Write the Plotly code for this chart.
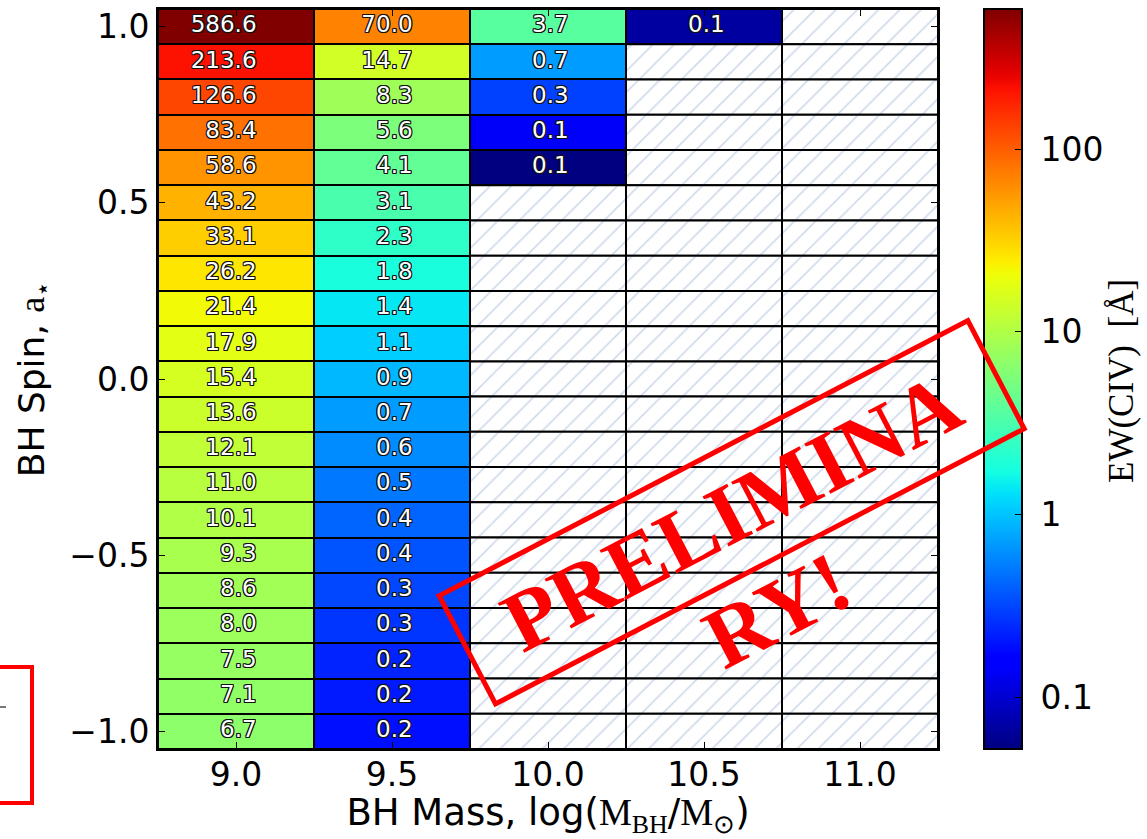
import math
import numpy as np
import plotly.graph_objects as go

# ---- data -----------------------------------------------------------------
mass = [9.0, 9.5, 10.0, 10.5, 11.0]                       # log(M_BH/M_sun)
spin = [1.0, 0.9, 0.8, 0.7, 0.6, 0.5, 0.4, 0.3, 0.2, 0.1, 0.0,
        -0.1, -0.2, -0.3, -0.4, -0.5, -0.6, -0.7, -0.8, -0.9, -1.0]

# EW(CIV) [Angstrom] per mass column, ordered like `spin` (None = no prediction)
ew_m90 = [586.6, 213.6, 126.6, 83.4, 58.6, 43.2, 33.1, 26.2, 21.4, 17.9, 15.4,
          13.6, 12.1, 11.0, 10.1, 9.3, 8.6, 8.0, 7.5, 7.1, 6.7]
ew_m95 = [70.0, 14.7, 8.3, 5.6, 4.1, 3.1, 2.3, 1.8, 1.4, 1.1, 0.9,
          0.7, 0.6, 0.5, 0.42, 0.36, 0.32, 0.27, 0.23, 0.21, 0.19]
ew_m100 = [3.7, 0.7, 0.3, 0.14, 0.052, None, None, None, None, None, None,
           None, None, None, None, None, None, None, None, None, None]
ew_m105 = [0.068, None, None, None, None, None, None, None, None, None, None,
           None, None, None, None, None, None, None, None, None, None]
ew_m110 = [None, None, None, None, None, None, None, None, None, None, None,
           None, None, None, None, None, None, None, None, None, None]

columns = [ew_m90, ew_m95, ew_m100, ew_m105, ew_m110]
cbar_ticks = [0.1, 1, 10, 100]
cbar_ticktext = ["0.1", "1", "10", "100"]

# ---- matplotlib-style "jet" colour map --------------------------------------
def jet(t):
    r = np.interp(t, [0, 0.35, 0.66, 0.89, 1], [0, 0, 1, 1, 0.5])
    g = np.interp(t, [0, 0.125, 0.375, 0.64, 0.91, 1], [0, 0, 1, 1, 0, 0])
    b = np.interp(t, [0, 0.11, 0.34, 0.65, 1], [0.5, 1, 1, 0, 0])
    return f"rgb({int(round(r*255))},{int(round(g*255))},{int(round(b*255))})"

jet_scale = [[t, jet(t)] for t in np.linspace(0, 1, 65)]

# ---- grids ------------------------------------------------------------------
logz = [[(math.log10(col[i]) if col[i] is not None else None) for col in columns]
        for i in range(len(spin))]
valid = [v for col in columns for v in col if v is not None]
zmin, zmax = math.log10(min(valid)), math.log10(max(valid))

NBSP = "\u00a0"
fig = go.Figure()

fig.add_trace(go.Heatmap(
    x=mass, y=spin, z=logz,
    colorscale=jet_scale, zmin=zmin, zmax=zmax,
    xgap=2, ygap=2, hoverongaps=False,
    colorbar=dict(
        x=(984 - 158) / 780, xanchor="left", xpad=0,
        y=0.5, yanchor="middle", len=1, ypad=0, thickness=38,
        outlinewidth=2, outlinecolor="black",
        tickvals=[math.log10(v) for v in cbar_ticks],
        ticktext=[NBSP + t for t in cbar_ticktext],
        ticks="inside", ticklen=8, tickwidth=1.2, tickcolor="black",
        tickfont=dict(family="DejaVu Sans", size=33, color="black"),
    ),
))

# hatched cells without a prediction
hx, hbase = [], []
for j, col in enumerate(columns):
    for i, v in enumerate(col):
        if v is None:
            hx.append(mass[j])
            hbase.append(spin[i] - 0.05)
fig.add_trace(go.Bar(
    x=hx, y=[0.1] * len(hx), base=hbase, width=0.5,
    marker=dict(color="white", line=dict(color="black", width=2),
                pattern=dict(shape="/", fgcolor="#a3b9d8", bgcolor="white",
                             size=15, solidity=0.12)),
    showlegend=False, hoverinfo="skip",
))

# value labels (white with dark outline)
tx, ty, tt = [], [], []
for j, col in enumerate(columns):
    for i, v in enumerate(col):
        if v is not None:
            tx.append(mass[j] + 0.066)
            ty.append(spin[i])
            tt.append(f"{v:.1f}")
outline = ", ".join(f"{dx}px {dy}px 0 #111" for dx, dy in
                    [(1, 1), (-1, -1), (1, -1), (-1, 1), (0, 1), (0, -1), (1, 0), (-1, 0)])
fig.add_trace(go.Scatter(
    x=tx, y=ty, text=tt, mode="text", textposition="middle left",
    textfont=dict(family="DejaVu Sans", size=23, color="white", shadow=outline),
    cliponaxis=False, showlegend=False, hoverinfo="skip",
))

# ---- layout -----------------------------------------------------------------
L, R, T, B = 158, 1147 - 938, 9, 839 - 749
W_PLOT, H_PLOT = 1147 - L - R, 839 - T - B

def px(x):
    return (x - L) / W_PLOT

def py(y):
    return (839 - B - y) / H_PLOT

axis_common = dict(
    showgrid=False, zeroline=False, showline=True, linewidth=2, linecolor="black",
    mirror="ticks", ticks="inside", ticklen=7, tickwidth=1.2, tickcolor="black",
    tickfont=dict(family="DejaVu Sans", size=33, color="black"),
    tickformat=".1f",
)

serif = "font-family:Liberation Serif"
fig.update_layout(
    width=1147, height=839,
    margin=dict(l=L, r=R, t=T, b=B, autoexpand=False),
    paper_bgcolor="white", plot_bgcolor="black",
    barmode="overlay", showlegend=False,
    xaxis=dict(range=[8.75, 11.25], tickvals=mass, ticklabelstandoff=-5,
               title=dict(text=f"BH Mass, log(<span style='{serif}'>M<sub>BH</sub></span>/"
                               f"<span style='{serif}'>M<sub>⊙</sub></span>)",
                          font=dict(family="DejaVu Sans", size=37, color="black"),
                          standoff=4),
               **axis_common),
    yaxis=dict(range=[-1.05, 1.05], tickvals=[-1.0, -0.5, 0.0, 0.5, 1.0],
               title=dict(text=f"BH Spin, <span style='{serif}'>a<sub>⋆</sub></span>",
                          font=dict(family="DejaVu Sans", size=36, color="black"),
                          standoff=14),
               **axis_common),
)

# colour-bar label
fig.add_annotation(x=px(1121), y=py(381), xref="paper", yref="paper",
                   text=f"EW(CIV){NBSP}{NBSP}[Å]", showarrow=False, textangle=-90,
                   xanchor="center", yanchor="middle",
                   font=dict(family="Liberation Serif", size=35, color="black"))

# ---- "PRELIMINARY!" stamp ---------------------------------------------------
ANG = 27.5
cx, cy = 731, 512
nx, ny = math.sin(math.radians(ANG)), math.cos(math.radians(ANG))   # across the stamp
stamp_font = dict(family="Liberation Serif", size=86, color="#ff0000", weight="bold")
fig.add_annotation(x=px(cx), y=py(cy), xref="paper", yref="paper",
                   text="PRELIMINA", showarrow=False, textangle=-ANG,
                   xanchor="center", yanchor="middle", font=stamp_font,
                   width=591, height=117, borderpad=0, borderwidth=5, bordercolor="#ff0000")
fig.add_annotation(x=px(cx - 4 + 109 * nx), y=py(cy + 1 + 109 * ny), xref="paper", yref="paper",
                   text="RY!", showarrow=False, textangle=-ANG,
                   xanchor="center", yanchor="middle", font=stamp_font)

# edge of the neighbouring panel's stamp
fig.add_shape(type="rect", xref="paper", yref="paper",
              x0=px(-12), x1=px(32), y0=py(803), y1=py(667),
              line=dict(color="#ff0000", width=4), fillcolor="rgba(0,0,0,0)")
fig.add_shape(type="line", xref="paper", yref="paper",
              x0=px(-2), x1=px(6), y0=py(707), y1=py(707),
              line=dict(color="#777777", width=2))

fig.write_html("out.html")
